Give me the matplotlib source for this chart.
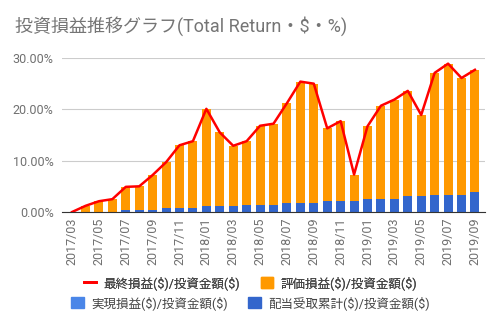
import numpy as np
import matplotlib
matplotlib.use("Agg")
import matplotlib.pyplot as plt
from matplotlib.lines import Line2D
from matplotlib.patches import Patch

plt.rcParams['font.family'] = ['Roboto', 'Noto Sans CJK JP', 'DejaVu Sans']

months = ['2017/03', '2017/04', '2017/05', '2017/06', '2017/07', '2017/08', '2017/09',
          '2017/10', '2017/11', '2017/12', '2018/01', '2018/02', '2018/03', '2018/04',
          '2018/05', '2018/06', '2018/07', '2018/08', '2018/09', '2018/10', '2018/11',
          '2018/12', '2019/01', '2019/02', '2019/03', '2019/04', '2019/05', '2019/06',
          '2019/07', '2019/08', '2019/09']

# final return (%) = top of stacked bar
total = [0.0, 1.2, 2.1, 2.5, 4.9, 5.0, 7.2, 9.7, 13.0, 13.8, 20.1, 15.5, 12.9, 13.8,
         16.8, 17.2, 21.2, 25.4, 25.0, 16.3, 17.7, 7.3, 16.7, 20.7, 21.9, 23.6,
         18.9, 27.1, 28.9, 26.1, 27.7]
# dividends received (cumulative, %)
dividend = [0.0, 0.0, 0.0, 0.0, 0.3, 0.3, 0.3, 0.7, 0.7, 0.7, 1.2, 1.2, 1.2, 1.4,
            1.4, 1.4, 1.7, 1.7, 1.7, 2.1, 2.1, 2.1, 2.5, 2.5, 2.5, 3.1,
            3.1, 3.3, 3.3, 3.3, 3.9]
realized = [0.0] * len(months)

total = np.array(total)
dividend = np.array(dividend)
realized = np.array(realized)
unrealized = total - dividend - realized

x = np.arange(len(months))

fig = plt.figure(figsize=(5.01, 3.26), dpi=100)
ax = fig.add_axes([62 / 501, 114 / 326, 423 / 501, 154 / 326])

w = 0.68
ax.bar(x, dividend, w, color='#3366CC', zorder=2)
ax.bar(x, realized, w, bottom=dividend, color='#4A86E8', zorder=2)
ax.bar(x, unrealized, w, bottom=dividend + realized, color='#FF9900', zorder=2)
ax.plot(x, total, color='#FF0000', lw=1.8, zorder=3)

ax.set_xlim(-0.75, len(months) - 0.25)
ax.set_ylim(0, 30)
ax.set_yticks([0, 10, 20, 30])
ax.set_yticklabels(['0.00%', '10.00%', '20.00%', '30.00%'])
ax.set_xticks(x[::2])
ax.set_xticklabels(months[::2], rotation=90)
ax.tick_params(axis='both', length=0, labelsize=9, colors='#707070')
ax.tick_params(axis='y', pad=6)
ax.tick_params(axis='x', pad=4)
ax.grid(axis='y', color='#CCCCCC', lw=0.8, zorder=0)
for s in ['top', 'right', 'left']:
    ax.spines[s].set_visible(False)
ax.spines['bottom'].set_color('#333333')
ax.spines['bottom'].set_zorder(4)

fig.text(15 / 501, 1 - 26 / 326, '投資損益推移グラフ(Total Return・\\$・%)', fontsize=13,
         color='#757575', va='center', ha='left')

h1 = [Line2D([], [], color='#FF0000', lw=2),
      Patch(color='#FF9900')]
l1 = ['最終損益(\\$)/投資金額(\\$)', '評価損益(\\$)/投資金額(\\$)']
h2 = [Patch(color='#4A86E8'), Patch(color='#3366CC')]
l2 = ['実現損益(\\$)/投資金額(\\$)', '配当受取累計(\\$)/投資金額(\\$)']
kw = dict(ncol=2, frameon=False, fontsize=9, handlelength=1.0, handleheight=1.0,
          handletextpad=0.6, columnspacing=1.6, labelcolor='#444444')
leg1 = fig.legend(h1, l1, loc='center', bbox_to_anchor=(0.5, 1 - 283 / 326), **kw)
fig.add_artist(leg1)
fig.legend(h2, l2, loc='center', bbox_to_anchor=(0.5, 1 - 303 / 326), **kw)

fig.savefig('out.png', dpi=100)
